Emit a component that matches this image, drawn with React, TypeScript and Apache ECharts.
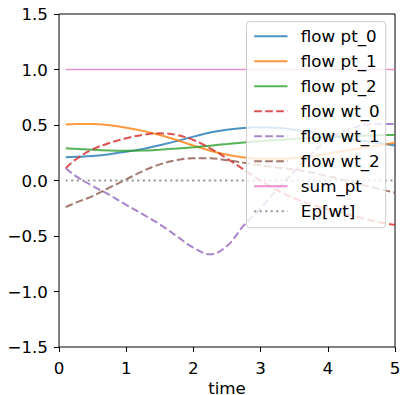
import React, { useEffect, useRef } from "react";
import * as echarts from "echarts";

const times = [0.1, 0.25, 0.5, 0.75, 1.0, 1.25, 1.5, 1.75, 2.0, 2.25, 2.5, 2.75, 3.0, 3.25, 3.5, 3.75, 4.0, 4.25, 4.5, 4.75, 5.0];

const flowPt0 = [0.21, 0.213, 0.22, 0.237, 0.258, 0.285, 0.318, 0.355, 0.395, 0.432, 0.458, 0.474, 0.48, 0.475, 0.458, 0.434, 0.407, 0.382, 0.36, 0.338, 0.315];
const flowPt1 = [0.505, 0.51, 0.51, 0.497, 0.476, 0.447, 0.41, 0.365, 0.315, 0.268, 0.232, 0.208, 0.196, 0.195, 0.203, 0.219, 0.243, 0.268, 0.29, 0.315, 0.34];
const flowPt2 = [0.29, 0.285, 0.276, 0.27, 0.268, 0.27, 0.278, 0.288, 0.3, 0.314, 0.328, 0.342, 0.354, 0.365, 0.375, 0.384, 0.391, 0.398, 0.404, 0.408, 0.41];
const flowWt0 = [0.11, 0.19, 0.28, 0.338, 0.38, 0.412, 0.425, 0.41, 0.365, 0.29, 0.198, 0.098, 0.0, -0.09, -0.16, -0.215, -0.26, -0.298, -0.338, -0.373, -0.40];
const flowWt1 = [0.11, 0.04, -0.05, -0.13, -0.22, -0.305, -0.395, -0.5, -0.605, -0.665, -0.59, -0.405, -0.25, -0.08, 0.08, 0.235, 0.365, 0.45, 0.493, 0.51, 0.51];
const flowWt2 = [-0.24, -0.2, -0.14, -0.065, 0.01, 0.085, 0.145, 0.183, 0.2, 0.2, 0.183, 0.16, 0.137, 0.117, 0.098, 0.072, 0.04, 0.003, -0.037, -0.075, -0.11];
const sumPt = [1.0, 1.0, 1.0, 1.0, 1.0, 1.0, 1.0, 1.0, 1.0, 1.0, 1.0, 1.0, 1.0, 1.0, 1.0, 1.0, 1.0, 1.0, 1.0, 1.0, 1.0];
const epWt = [0.0, 0.0, 0.0, 0.0, 0.0, 0.0, 0.0, 0.0, 0.0, 0.0, 0.0, 0.0, 0.0, 0.0, 0.0, 0.0, 0.0, 0.0, 0.0, 0.0, 0.0];

const seriesNames = ["flow pt_0", "flow pt_1", "flow pt_2", "flow wt_0", "flow wt_1", "flow wt_2", "sum_pt", "Ep[wt]"];
const seriesValues = [flowPt0, flowPt1, flowPt2, flowWt0, flowWt1, flowWt2, sumPt, epWt];
const seriesColors = ["#1f77b4", "#ff7f0e", "#2ca02c", "#d62728", "#9467bd", "#8c564b", "#e377c2", "#7f7f7f"];
const seriesDash: (string | number[])[] = ["solid", "solid", "solid", [7.7, 3.3], [7.7, 3.3], [7.7, 3.3], "solid", [2.1, 3.4]];
const seriesWidth = [2, 2, 2, 2, 2, 2, 1.5, 1.8];

const FONT = "DejaVu Sans";
const FS = 16.7;

export default function App() {
  const ref = useRef<HTMLDivElement>(null);
  useEffect(() => {
    if (!ref.current) return;
    const chart = echarts.init(ref.current, undefined, { renderer: "svg", width: 400, height: 395 });
    const fmt = (v: number) => v.toFixed(1).replace("-", "\u2212");
    chart.setOption({
      animation: false,
      backgroundColor: "#ffffff",
      grid: {
        left: 59,
        right: 5,
        top: 14,
        bottom: 48,
        containLabel: false,
        outerBoundsMode: "none",
        show: true,
        borderColor: "#000000",
        borderWidth: 1,
        backgroundColor: "transparent",
      },
      xAxis: {
        type: "value",
        min: 0,
        max: 5,
        interval: 1,
        name: "time",
        nameLocation: "middle",
        nameGap: 41,
        nameMoveOverlap: false,
        nameTextStyle: { fontFamily: FONT, fontSize: FS, color: "#000", verticalAlign: "middle" },
        axisLine: { show: false, onZero: false },
        axisTick: { show: true, length: 5, inside: false, lineStyle: { color: "#000", width: 1 } },
        axisLabel: { fontFamily: FONT, fontSize: FS, color: "#000", margin: 12, formatter: (v: number) => String(v) },
        splitLine: { show: false },
      },
      yAxis: {
        type: "value",
        min: -1.5,
        max: 1.5,
        interval: 0.5,
        axisLine: { show: false, onZero: false },
        axisTick: { show: true, length: 5, inside: false, lineStyle: { color: "#000", width: 1 } },
        axisLabel: { fontFamily: FONT, fontSize: FS, color: "#000", margin: 11, formatter: fmt },
        splitLine: { show: false },
      },
      legend: {
        orient: "vertical",
        right: 14.3,
        top: 21.7,
        padding: [6, 6, 8, 6.7],
        itemWidth: 33.3,
        itemHeight: 16,
        itemGap: 8,
        backgroundColor: "rgba(255,255,255,0.8)",
        borderColor: "#cccccc",
        borderWidth: 1,
        borderRadius: 3,
        itemStyle: { opacity: 0 },
        textStyle: { fontFamily: FONT, fontSize: FS, color: "#000", lineHeight: 16, padding: [0, 0, 0, 8.4] },
        data: seriesNames,
      },
      series: seriesNames.map((name, i) => ({
        name,
        type: "line",
        data: times.map((t, j) => [t, seriesValues[i][j]]),
        smooth: 0.4,
        symbol: "none",
        showSymbol: false,
        color: seriesColors[i],
        lineStyle: {
          color: seriesColors[i],
          width: seriesWidth[i],
          type: seriesDash[i],
          opacity: 0.8,
        },
        itemStyle: { color: seriesColors[i], opacity: 0.8 },
        emphasis: { disabled: true },
      })),
    });
    return () => chart.dispose();
  }, []);
  return <div ref={ref} style={{ position: "fixed", left: 0, top: 0, width: 400, height: 395 }} />;
}
